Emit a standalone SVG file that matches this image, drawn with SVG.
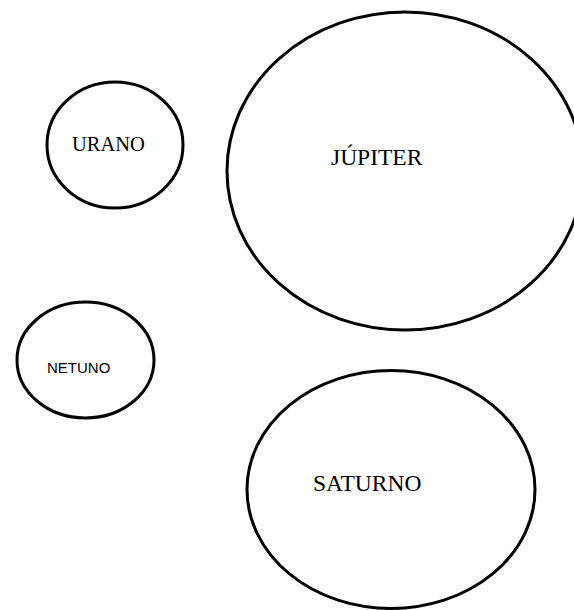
<svg xmlns="http://www.w3.org/2000/svg" width="574" height="610" viewBox="0 0 574 610">
<style>
.planet{fill:#fff;stroke:#000;stroke-width:3}
.serif{font-family:"Liberation Serif","Times New Roman",serif;fill:#000}
.sans{font-family:"Liberation Sans",Arial,sans-serif;fill:#000}
</style>
<rect width="574" height="610" fill="#fff"/>
<g id="connectors"></g>
<g id="urano">
<ellipse class="planet" cx="115" cy="145" rx="68" ry="63"/>
<text class="serif" x="72" y="151" font-size="20.5">URANO</text>
</g>
<g id="jupiter">
<ellipse class="planet" cx="405" cy="171" rx="178" ry="159"/>
<text class="serif" x="331" y="165" font-size="23.5">JÚPITER</text>
</g>
<g id="netuno">
<ellipse class="planet" cx="85.5" cy="360" rx="68.5" ry="58"/>
<text class="sans" x="47" y="373" font-size="15">NETUNO</text>
</g>
<g id="saturno">
<ellipse class="planet" cx="391" cy="489.5" rx="144" ry="119"/>
<text class="serif" x="313" y="491" font-size="23.5">SATURNO</text>
</g>
</svg>
